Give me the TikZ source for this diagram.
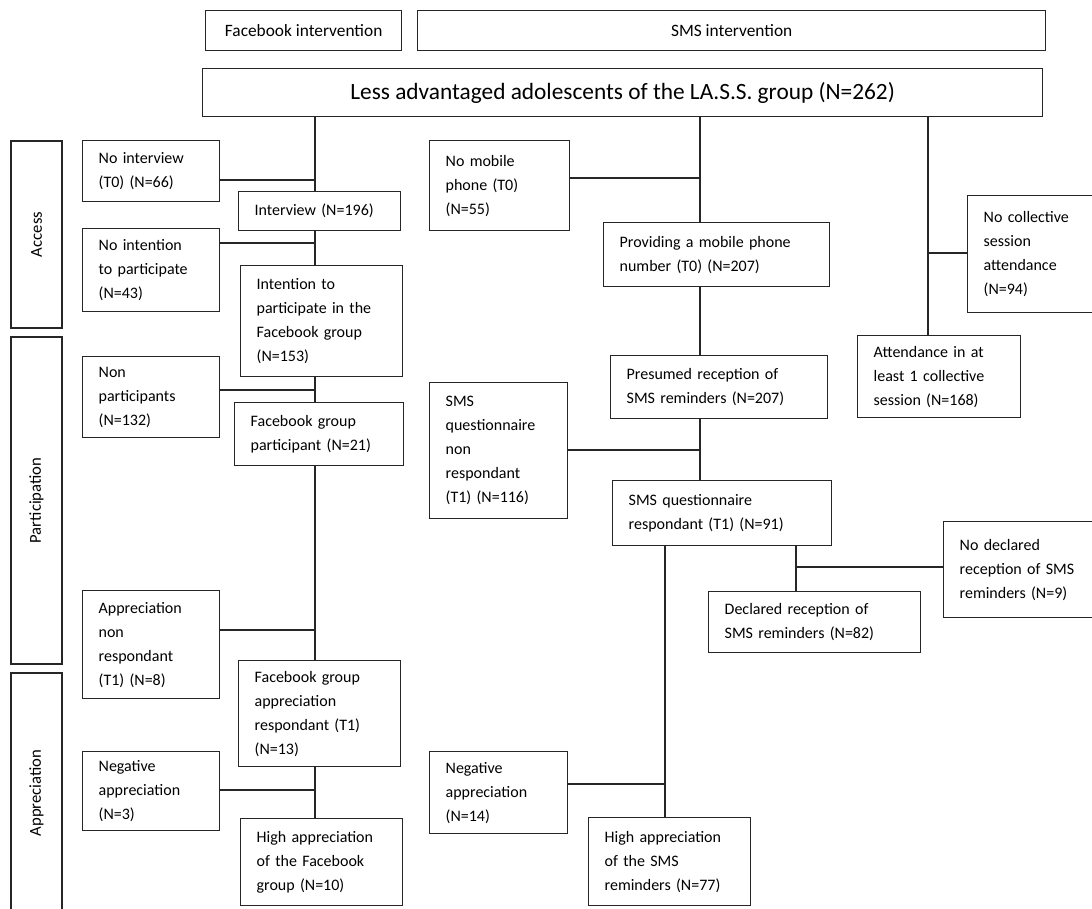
\documentclass[tikz,border=0pt]{standalone}
\usepackage{fontspec}
\setmainfont{Carlito}
\usetikzlibrary{positioning}
\tikzset{
  cell/.style 2 args={draw=black!85,line width=1pt,anchor=north west,align=left,
    inner xsep=12pt,inner ysep=0pt,text width=#1*0.75pt-24pt,
    minimum width=#1*0.75pt,minimum height=#2*0.75pt,
    font=\fontsize{12}{18}\selectfont},
  head/.style 2 args={draw=black!85,line width=1pt,anchor=north west,inner sep=0pt,
    minimum width=#1*0.75pt,minimum height=#2*0.75pt,
    font=\fontsize{13}{15}\selectfont},
  phase/.style 2 args={draw=black!85,line width=1pt,rotate=90,inner sep=0pt,
    minimum width=#2*0.75pt,minimum height=#1*0.75pt,
    font=\fontsize{12.5}{15}\selectfont},
  link/.style={draw=black!85,line width=1pt},
}
\begin{document}
\begin{tikzpicture}[x=0.75pt,y=-0.75pt]
  \useasboundingbox (0,0) rectangle (1092,908);

  % headers
  \node[head={196}{40}] (fbint) at (205,10) {Facebook intervention};
  \node[head={628}{40}] (smsint) at (417,10) {SMS intervention};
  \node[head={840}{48},font=\fontsize{17.5}{20}\selectfont] (root) at (202,68)
    {Less advantaged adolescents of the LA.S.S. group (N=262)};

  % phases
  \node[phase={51}{187}] (access) at (36.5,234.5) {Access};
  \node[phase={51}{327}] (particip) at (36.5,500.5) {Participation};
  \node[phase={51}{240}] (apprec) at (36.5,793) {Appreciation};

  % Facebook branch
  \node[cell={137}{61}] (noint) at (82,140) {No interview\\(T0) (N=66)};
  \node[cell={162}{39}] (interview) at (238,191) {Interview (N=196)};
  \node[cell={137}{83}] (nointent) at (82,228) {No intention\\to participate\\(N=43)};
  \node[cell={162}{111}] (intent) at (240,265) {Intention to\\participate in the\\Facebook group\\(N=153)};
  \node[cell={137}{81}] (nonpart) at (82,356) {Non\\participants\\(N=132)};
  \node[cell={169}{63}] (fbpart) at (234,402) {Facebook group\\participant (N=21)};
  \node[cell={137}{108}] (fbnonresp) at (82,590) {Appreciation\\non\\respondant\\(T1) (N=8)};
  \node[cell={162}{106}] (fbresp) at (238,660) {Facebook group\\appreciation\\respondant (T1)\\(N=13)};
  \node[cell={137}{79}] (fbneg) at (82,751) {Negative\\appreciation\\(N=3)};
  \node[cell={162}{87}] (fbhigh) at (240,818) {High appreciation\\of the Facebook\\group (N=10)};

  % SMS branch
  \node[cell={140}{90}] (nophone) at (429,140) {No mobile\\phone (T0)\\(N=55)};
  \node[cell={226}{64}] (phone) at (603,222) {Providing a mobile phone\\number (T0) (N=207)};
  \node[cell={217}{63}] (presumed) at (610,355) {Presumed reception of\\SMS reminders (N=207)};
  \node[cell={138}{136}] (smsnonresp) at (429,382) {SMS\\questionnaire\\non\\respondant\\(T1) (N=116)};
  \node[cell={219}{65}] (smsresp) at (612,480) {SMS questionnaire\\respondant (T1) (N=91)};
  \node[cell={212}{61}] (declared) at (708,591) {Declared reception of\\SMS reminders (N=82)};
  \node[cell={160}{96}] (nodeclared) at (943,521) {No declared\\reception of SMS\\reminders (N=9)};
  \node[cell={138}{82}] (smsneg) at (429,751) {Negative\\appreciation\\(N=14)};
  \node[cell={162}{88}] (smshigh) at (588,817) {High appreciation\\of the SMS\\reminders (N=77)};

  % collective sessions
  \node[cell={140}{117}] (nosession) at (967,195) {No collective\\session\\attendance\\(N=94)};
  \node[cell={163}{82}] (session) at (857,335) {Attendance in at\\least 1 collective\\session (N=168)};

  % trunks and junctions
  \coordinate (fbx) at (315,0);
  \coordinate (smsx) at (700,0);
  \coordinate (apprx) at (665,0);
  \coordinate (declx) at (796,0);
  \coordinate (sesx) at (928,0);
  \coordinate (j1) at (315,180);
  \coordinate (j2) at (315,243);
  \coordinate (j3) at (315,390);
  \coordinate (j4) at (315,630);
  \coordinate (j5) at (315,790);
  \coordinate (k1) at (700,178);
  \coordinate (k2) at (700,450);
  \coordinate (k3) at (796,567);
  \coordinate (k4) at (665,784);
  \coordinate (m1) at (928,253);

  \draw[link] (root.south -| fbx) -- (interview.north -| fbx);
  \draw[link] (interview.south -| fbx) -- (intent.north -| fbx);
  \draw[link] (intent.south -| fbx) -- (fbpart.north -| fbx);
  \draw[link] (fbpart.south -| fbx) -- (fbresp.north -| fbx);
  \draw[link] (fbresp.south -| fbx) -- (fbhigh.north -| fbx);
  \draw[link] (noint.east |- j1) -- (j1);
  \draw[link] (nointent.east |- j2) -- (j2);
  \draw[link] (nonpart.east |- j3) -- (j3);
  \draw[link] (fbnonresp.east |- j4) -- (j4);
  \draw[link] (fbneg.east |- j5) -- (j5);

  \draw[link] (root.south -| smsx) -- (phone.north -| smsx);
  \draw[link] (phone.south -| smsx) -- (presumed.north -| smsx);
  \draw[link] (presumed.south -| smsx) -- (smsresp.north -| smsx);
  \draw[link] (smsresp.south -| declx) -- (declared.north -| declx);
  \draw[link] (smsresp.south -| apprx) -- (smshigh.north -| apprx);
  \draw[link] (nophone.east |- k1) -- (k1);
  \draw[link] (smsnonresp.east |- k2) -- (k2);
  \draw[link] (k3) -- (k3 -| nodeclared.west);
  \draw[link] (smsneg.east |- k4) -- (k4);

  \draw[link] (root.south -| sesx) -- (session.north -| sesx);
  \draw[link] (m1) -- (m1 -| nosession.west);
\end{tikzpicture}
\end{document}
